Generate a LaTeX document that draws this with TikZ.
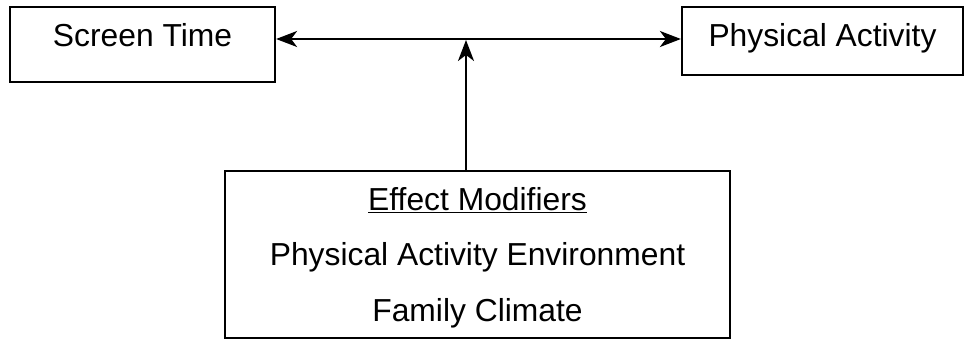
\documentclass[tikz,border=0pt]{standalone}
\usepackage{fontspec}
\setmainfont{Liberation Sans}
\usetikzlibrary{arrows.meta}
\begin{document}
\begin{tikzpicture}[x=1pt,y=-1pt,
  boxst/.style={draw,line width=2.2pt,inner sep=0pt},
  lbl/.style={anchor=base,inner sep=0pt,font=\fontsize{31.8}{38}\selectfont},
  tip/.style={Stealth[length=21pt,width=16pt,inset=6pt]},
  arr/.style={line width=2.2pt,-{Stealth[length=21pt,width=16pt,inset=6pt]}},
  darr/.style={line width=2.2pt,{Stealth[length=21pt,width=16pt,inset=6pt]}-{Stealth[length=21pt,width=16pt,inset=6pt]}}]
\useasboundingbox (0,0) rectangle (965,339);
\node[boxst,minimum width=265pt,minimum height=75pt] (st) at (142.5,44.8) {};
\node[boxst,minimum width=281pt,minimum height=68pt] (pa) at (822.5,41) {};
\node[boxst,minimum width=505pt,minimum height=167pt] (em) at (477.5,254.2) {};
\node[lbl] (stt) at (142.5,47) {Screen Time};
\node[lbl] (pat) at (822.5,47) {Physical Activity};
\node[lbl] (em1) at (477.5,210.5) {\underline{Effect Modifiers}};
\node[lbl] (em2) at (477.5,265) {Physical Activity Environment};
\node[lbl] (em3) at (477.5,321) {Family Climate};
\coordinate (mid) at (466,39);
\draw[darr] (mid -| st.east) -- (mid -| pa.west);
\draw[arr] (em.north -| mid) -- ([yshift=-1pt]mid);
\end{tikzpicture}
\end{document}
